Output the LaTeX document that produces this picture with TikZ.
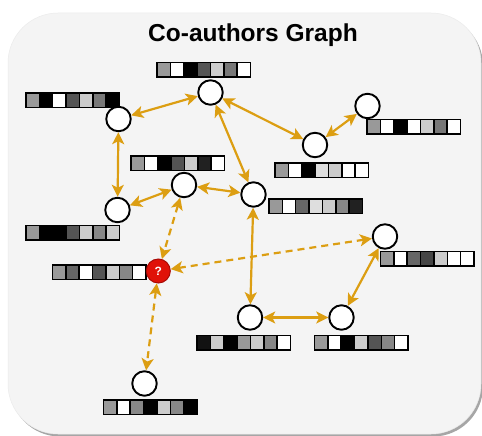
\documentclass[tikz,border=0pt]{standalone}
\usepackage{fontspec}
\setmainfont{Liberation Sans}
\usetikzlibrary{arrows.meta}

\definecolor{panel}{HTML}{F4F4F4}
\definecolor{linkcol}{RGB}{220,158,18}
\definecolor{qred}{HTML}{E01208}
\definecolor{qredline}{HTML}{A80A05}

\tikzset{
  author/.style={circle, draw=black, fill=white, line width=1.9pt,
    minimum size=24.5pt, inner sep=0pt},
  unknown/.style={circle, draw=qredline, fill=qred, line width=1pt,
    minimum size=24pt, inner sep=0pt, text=white,
    font=\bfseries\fontsize{12}{12}\selectfont},
  link/.style={draw=linkcol, line width=2.2pt,
    {Stealth[length=12pt,width=12pt,inset=3pt]}-{Stealth[length=12pt,width=12pt,inset=3pt]}},
  guess/.style={link, dash pattern=on 7pt off 5pt},
  cell/.style={draw=black, line width=1.5pt}
}

% feature vector: seven grey cells, top-left corner at (#1,#2)
\newcommand{\featbar}[3]{%
  \foreach \c [count=\i from 0] in {#3} {
    \filldraw[cell, fill=\c] ({#1+\i*13.36},{#2}) rectangle ++(13.36,14.5);
  }%
}

\begin{document}
\begin{tikzpicture}[x=1pt,y=-1pt]
\useasboundingbox (0,0) rectangle (482,436);

% panel with a soft shadow
\fill[black!35, rounded corners=50pt] (10,15.5) rectangle (483,436.5);
\fill[panel, draw=black!8, line width=0.5pt, rounded corners=50pt] (8,13) rectangle (481,434);

\node[anchor=base, font=\bfseries\fontsize{24.5}{25}\selectfont] (title) at (253,42) {Co-authors Graph};

% feature vectors
\featbar{157}{62.5}{black!40,white,black,black!67,black!20,black!53,white}
\featbar{26}{93}{black!40,black,white,black!67,black!20,black!53,black}
\featbar{367}{119.5}{black!40,white,black,white,black!20,black!53,white}
\featbar{275}{163}{black!40,white,black,black!13,black!20,white,white}
\featbar{131}{156}{black!40,white,black,black!67,black!20,black!87,white}
\featbar{269}{199}{black!40,white,black!60,black!13,black!20,black!47,black!87}
\featbar{26}{225.5}{black!40,black,black,black!67,black!20,black!47,black!20}
\featbar{380.5}{251.5}{black!40,white,black!60,black!73,black!20,white,white}
\featbar{52.5}{265}{black!40,black!60,white,black!67,black!20,black!47,white}
\featbar{197}{335.5}{black!93,black!20,black,black!40,black!20,black!47,white}
\featbar{314.5}{335.5}{black!40,white,black,black!20,black!67,black!47,white}
\featbar{103.5}{400}{black!40,white,black!47,black,black!20,black!47,black}

% authors
\node[author] (a1) at (210.5,92.5) {};
\node[author] (a2) at (118.5,119) {};
\node[author] (a3) at (367.5,106) {};
\node[author] (a4) at (315,145) {};
\node[author] (a5) at (184,185) {};
\node[author] (a6) at (253.5,194.5) {};
\node[author] (a7) at (117.5,210) {};
\node[author] (a8) at (385,236.5) {};
\node[author] (a9) at (250,317.5) {};
\node[author] (a10) at (341.5,317.5) {};
\node[author] (a11) at (144.5,383.5) {};
\node[unknown] (q) at (158.3,271) {?};

% known co-authorships
\draw[link] (a2) -- (a1);
\draw[link] (a1) -- (a4);
\draw[link] (a1) -- (a6);
\draw[link] (a3) -- (a4);
\draw[link] (a2) -- (a7);
\draw[link] (a7) -- (a5);
\draw[link] (a5) -- (a6);
\draw[link] (a6) -- (a9);
\draw[link] (a9) -- (a10);
\draw[link] (a10) -- (a8);

% candidate links of the unknown author
\draw[guess] (a5) -- (q);
\draw[guess] (a8) -- (q);
\draw[guess] (q) -- (a11);
\end{tikzpicture}
\end{document}
